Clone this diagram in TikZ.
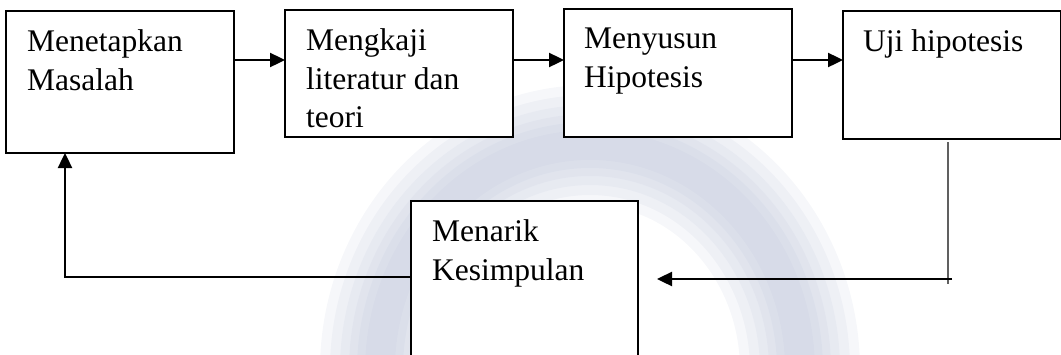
\documentclass[tikz,border=0pt]{standalone}
\usepackage{fontspec}
\setmainfont{Liberation Serif}
\usetikzlibrary{arrows.meta,calc}
\definecolor{wmark}{RGB}{184,192,214}
\definecolor{thinline}{RGB}{96,96,96}
\tikzset{
  boxnode/.style={draw=black, line width=1.8pt, fill=white, rectangle, inner sep=0pt, outer sep=0pt, anchor=north west},
  boxtext/.style={anchor=north west, inner sep=0pt, align=left, font=\fontsize{31.5}{38.5}\selectfont},
  arr/.style={line width=2.4pt, -{Triangle[length=15pt,width=14pt]}},
  thinconn/.style={line width=1.5pt, draw=thinline},
  ring/.style={opacity=0.13, line cap=butt}
}
\begin{document}
\begin{tikzpicture}[x=1pt,y=-1pt]
\useasboundingbox (0,0) rectangle (1061,354);
% faint, soft watermark ring in the background
\foreach \w in {120,100,80,62,46,30} {
  \draw[ring, wmark, line width=\w pt] (590,370) ++(-210,0) arc[start angle=180, end angle=360, x radius=210, y radius=225];
}
% boxes
\node[boxnode, minimum width=228pt, minimum height=142pt] (b1) at (6,11) {};
\node[boxnode, minimum width=228pt, minimum height=127pt] (b2) at (285,10) {};
\node[boxnode, minimum width=228pt, minimum height=128pt] (b3) at (564,9) {};
\node[boxnode, minimum width=218pt, minimum height=128pt] (b4) at (843,11) {};
\node[boxnode, minimum width=227pt, minimum height=160pt] (b5) at (411,201) {};
% texts
\node[boxtext] (t1) at ($(b1.north west)+(21,18.5)$) {Menetapkan\\Masalah};
\node[boxtext] (t2) at ($(b2.north west)+(21,18.5)$) {Mengkaji\\literatur dan\\teori};
\node[boxtext] (t3) at ($(b3.north west)+(20,19)$) {Menyusun\\Hipotesis};
\node[boxtext] (t4) at ($(b4.north west)+(20,18.5)$) {Uji hipotesis};
\node[boxtext] (t5) at ($(b5.north west)+(21,18.5)$) {Menarik\\Kesimpulan};
% connectors
\coordinate (row) at (0,60);
\draw[arr] (b1.east |- row) -- (b2.west |- row);
\draw[arr] (b2.east |- row) -- (b3.west |- row);
\draw[arr] (b3.east |- row) -- (b4.west |- row);
\coordinate (v1) at (948,142);
\coordinate (v2) at (948,284);
\draw[thinconn] (v1) -- (v2);
\coordinate (h1) at (952,279);
\coordinate (tip) at (657,279);
\draw[arr] (h1) -- (tip);
\coordinate (ret) at (65,277);
\draw[arr] (b5.west |- ret) -- (ret) -- (b1.south -| ret);
\end{tikzpicture}
\end{document}
